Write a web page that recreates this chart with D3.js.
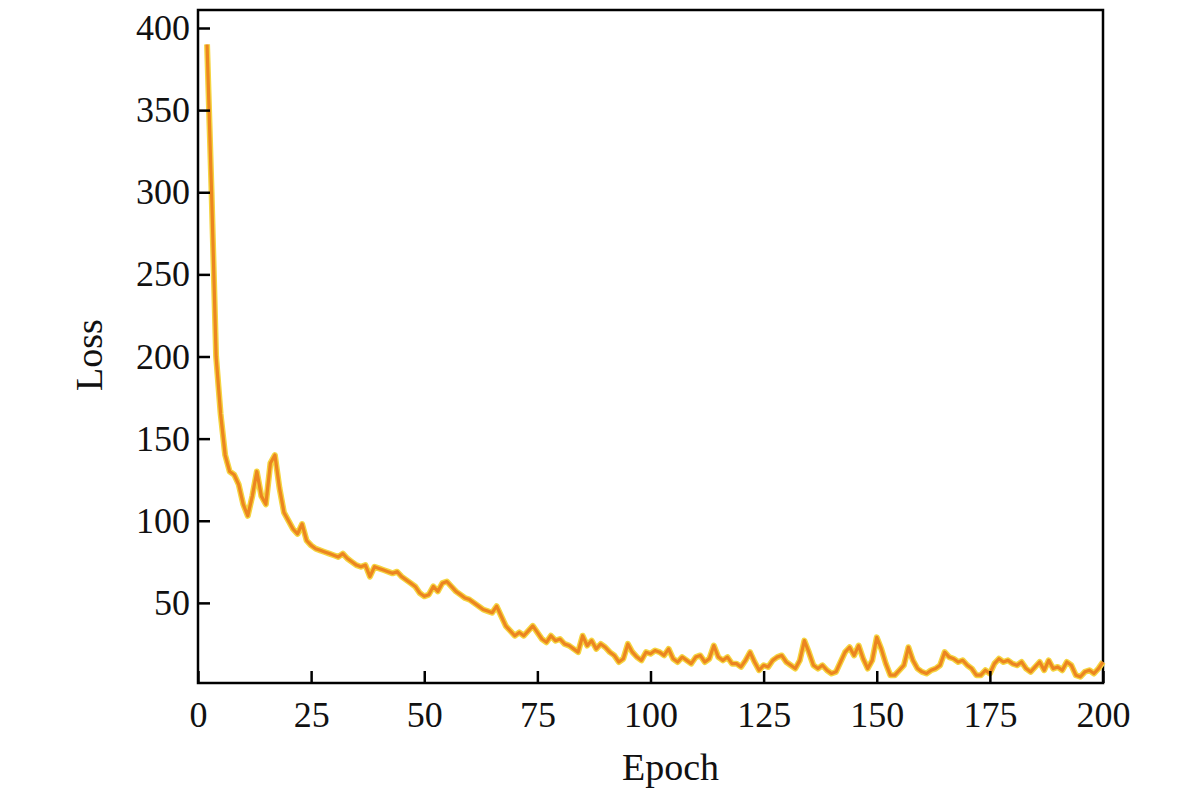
<!DOCTYPE html>
<html><head><meta charset="utf-8">
<script src="https://cdn.jsdelivr.net/npm/d3@7"></script>
<style>body{margin:0;background:#fff}svg text{font-family:"Liberation Serif","Times New Roman",serif;fill:#111}</style>
</head><body><svg id="c" width="1200" height="810"></svg>
<script>
const startEpoch = 2;
const loss = [390,300,200,165,140,130,128,122,110,103,115,130,115,110,135,140,120,105,100,95,92,98,88,85,83,82,81,80,79,78,80,77,75,73,72,73,66,72,71,70,69,68,69,66,64,62,60,56,54,55,60,57,62,63,60,57,55,53,52,50,48,46,45,44,48,42,36,33,30,32,30,33,36,32,28,26,30,27,28,25,24,22,20,30,24,27,22,25,23,20,18,14,16,25,20,17,15,20,19,21,20,18,22,16,14,17,15,13,17,18,14,16,24,17,15,17,13,13,11,15,20,14,9,12,11,15,17,18,14,12,10,15,27,20,12,10,12,9,7,8,14,20,23,18,24,16,10,15,29,22,13,6,6,9,12,23,15,10,8,7,9,10,12,20,17,16,14,15,12,10,6,6,9,7,13,16,14,15,13,12,14,10,8,11,14,9,15,10,11,9,14,12,6,5,8,9,7,10,14];
const xTicks = [0,25,50,75,100,125,150,175,200];
const yTicks = [50,100,150,200,250,300,350,400];

const svg = d3.select("#c");
const L=198,R=1103,T=10,B=683;
const x = d3.scaleLinear().domain([0,200]).range([L,R]);
const y = d3.scaleLinear().domain([0,400]).range([685,28]);
const data = loss.map((v,i)=>({e:startEpoch+i,v}));

svg.append("rect").attr("x",L).attr("y",T).attr("width",R-L).attr("height",B-T)
  .attr("fill","none").attr("stroke","#000").attr("stroke-width",2.5);

const line = d3.line().x(d=>x(d.e)).y(d=>y(d.v));
svg.append("path").datum(data).attr("d",line).attr("fill","none")
  .attr("stroke","#f5d440").attr("stroke-width",6).attr("stroke-linejoin","round");
svg.append("path").datum(data).attr("d",line).attr("fill","none")
  .attr("stroke","#ec8520").attr("stroke-width",3.2).attr("stroke-linejoin","round");

const xa = svg.append("g").attr("transform",`translate(0,${B})`)
  .call(d3.axisBottom(x).tickValues(xTicks).tickSize(-12).tickPadding(18).tickFormat(d3.format("d")));
const ya = svg.append("g").attr("transform",`translate(${L},0)`)
  .call(d3.axisLeft(y).tickValues(yTicks).tickSize(-12).tickPadding(8));
[xa,ya].forEach(a=>{a.select(".domain").remove();
  a.selectAll(".tick line").attr("stroke","#000").attr("stroke-width",2.5);
  a.selectAll("text").style("font-size","36px").attr("fill","#111");});

svg.append("text").attr("x",(L+R)/2+20).attr("y",780).attr("text-anchor","middle")
  .style("font-size","38px").text("Epoch");
svg.append("text").attr("transform",`translate(102,355) rotate(-90)`).attr("text-anchor","middle")
  .style("font-size","38px").text("Loss");
</script></body></html>
